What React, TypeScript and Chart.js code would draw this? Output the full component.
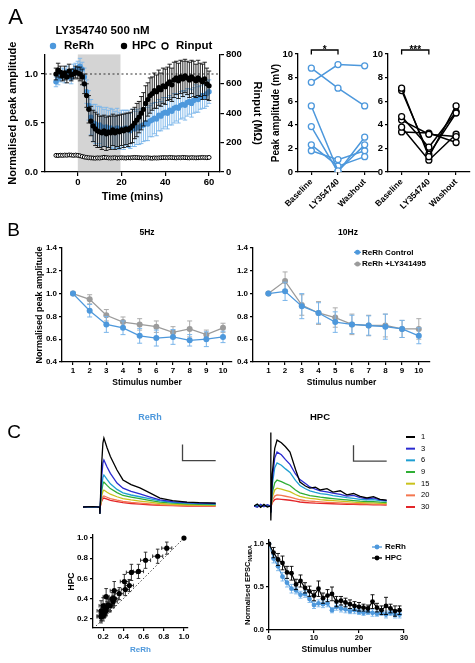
import React, { useEffect, useRef } from "react";
import { Chart, registerables } from "chart.js";

Chart.register(...registerables);

const PAGE_W = 475;
const PAGE_H = 663;
const FONT = "'Liberation Sans', Arial, Helvetica, sans-serif";
const BLUE = "#4d98dc";
const BLUE_LIGHT = "#7ab5ea";
const GREY = "#9b9b9b";
const TRACE_COLOURS = ["#000000", "#2a2ad0", "#1f9fd2", "#2fae35", "#c9c21c", "#f4764f", "#e3262a"];

// ===== Panel A: time course =====
const TIME_MIN = [
  -10, -9, -8, -7, -6, -5, -4, -3, -2, -1,
  0, 1, 2, 3, 4, 5, 6, 7, 8, 9,
  10, 11, 12, 13, 14, 15, 16, 17, 18, 19,
  20, 21, 22, 23, 24, 25, 26, 27, 28, 29,
  30, 31, 32, 33, 34, 35, 36, 37, 38, 39,
  40, 41, 42, 43, 44, 45, 46, 47, 48, 49,
  50, 51, 52, 53, 54, 55, 56, 57, 58, 59, 60,
];
const RERH_AMP = [
  0.92, 0.95, 0.97, 1.0, 0.98, 1.02, 0.99, 0.96, 1.03, 1.05,
  1.06, 1.08, 1.05, 0.97, 0.82, 0.68, 0.56, 0.5, 0.49, 0.47,
  0.48, 0.46, 0.45, 0.46, 0.44, 0.45, 0.44, 0.43, 0.45, 0.42,
  0.44, 0.43, 0.45, 0.44, 0.42, 0.45, 0.44, 0.46, 0.45, 0.47,
  0.48, 0.5, 0.49, 0.52, 0.53, 0.55, 0.54, 0.58, 0.57, 0.6,
  0.61, 0.6, 0.63, 0.62, 0.65, 0.66, 0.65, 0.68, 0.69, 0.68,
  0.71, 0.72, 0.7, 0.73, 0.75, 0.74, 0.76, 0.78, 0.77, 0.8, 0.82,
];
const RERH_AMP_SEM = [
  0.05, 0.06, 0.05, 0.06, 0.07, 0.06, 0.05, 0.06, 0.07, 0.06,
  0.07, 0.08, 0.07, 0.09, 0.12, 0.15, 0.18, 0.19, 0.2, 0.2,
  0.19, 0.2, 0.19, 0.2, 0.19, 0.2, 0.2, 0.19, 0.2, 0.19,
  0.19, 0.2, 0.18, 0.19, 0.18, 0.19, 0.18, 0.18, 0.17, 0.18,
  0.17, 0.18, 0.17, 0.16, 0.17, 0.16, 0.17, 0.16, 0.15, 0.16,
  0.15, 0.16, 0.15, 0.14, 0.15, 0.14, 0.15, 0.14, 0.14, 0.15,
  0.14, 0.13, 0.14, 0.13, 0.14, 0.13, 0.12, 0.13, 0.12, 0.13, 0.12,
];
const HPC_AMP = [
  1.0, 1.04, 1.02, 0.98, 1.01, 0.97, 1.03, 0.99, 1.0, 1.02,
  1.01, 1.0, 0.97, 0.9, 0.78, 0.64, 0.52, 0.47, 0.44, 0.42,
  0.41, 0.4, 0.42, 0.39, 0.41, 0.4, 0.43, 0.4, 0.42, 0.41,
  0.43, 0.42, 0.44, 0.43, 0.45, 0.47, 0.5, 0.53, 0.56, 0.6,
  0.64, 0.7, 0.74, 0.78, 0.8, 0.83, 0.82, 0.86, 0.84, 0.88,
  0.87, 0.9, 0.92, 0.89, 0.94, 0.96, 0.93, 0.97, 0.95, 0.98,
  0.96, 0.94, 0.97, 0.95, 0.93, 0.96, 0.94, 0.92, 0.95, 0.9, 0.88,
];
const HPC_AMP_SEM = [
  0.06, 0.07, 0.06, 0.05, 0.07, 0.06, 0.07, 0.06, 0.05, 0.06,
  0.06, 0.07, 0.08, 0.1, 0.12, 0.14, 0.15, 0.16, 0.17, 0.17,
  0.16, 0.17, 0.16, 0.17, 0.16, 0.17, 0.16, 0.17, 0.16, 0.17,
  0.16, 0.17, 0.16, 0.17, 0.16, 0.17, 0.16, 0.17, 0.16, 0.17,
  0.17, 0.18, 0.17, 0.18, 0.17, 0.18, 0.17, 0.18, 0.17, 0.18,
  0.18, 0.17, 0.18, 0.17, 0.18, 0.17, 0.18, 0.17, 0.18, 0.17,
  0.17, 0.18, 0.17, 0.18, 0.17, 0.18, 0.17, 0.18, 0.17, 0.16, 0.15,
];
const RINPUT_MOHM = [
  113, 112, 114, 113, 115, 114, 116, 115, 113, 115,
  113, 110, 106, 102, 99, 97, 96, 95, 94, 96,
  95, 97, 100, 98, 96, 95, 96, 97, 95, 96,
  97, 96, 95, 97, 96, 98, 99, 98, 97, 96,
  95, 96, 97, 95, 94, 96, 95, 96, 97, 98,
  98, 97, 99, 98, 97, 96, 98, 97, 99, 98,
  97, 96, 98, 97, 96, 97, 98, 99, 98, 97, 99,
];
const DRUG_WINDOW = [0, 19.5];
const REF_SPAN = [-15, 65];
const REF_LEVEL = [1, 1];
const A_X_TICKS = [0, 20, 40, 60];
const A_Y_TICKS = [0, 0.5, 1.0];
const A_Y1_TICKS = [0, 200, 400, 600, 800];

// ===== Panel A: individual cells =====
const CONDITIONS = ["Baseline", "LY354740", "Washout"];
const RERH_BASELINE = [8.8, 7.6, 5.6, 3.85, 2.3, 1.8];
const RERH_LY = [7.1, 9.1, 0.1, 0.0, 0.5, 1.05];
const RERH_WASHOUT = [5.6, 9.0, 2.3, 2.95, 1.3, 1.8];
const HPC_BASELINE = [7.1, 6.9, 4.7, 4.4, 3.8, 3.4];
const HPC_LY = [1.3, 1.5, 2.1, 3.2, 1.0, 3.3];
const HPC_WASHOUT = [5.6, 5.0, 5.1, 3.0, 3.2, 2.5];
const PEAK_TICKS = [0, 2, 4, 6, 8, 10];

// ===== Panel B =====
const STIM_B = [1, 2, 3, 4, 5, 6, 7, 8, 9, 10];
const RERH_5HZ = [1.0, 0.85, 0.73, 0.7, 0.63, 0.61, 0.62, 0.59, 0.6, 0.62];
const RERH_5HZ_SEM = [0, 0.055, 0.07, 0.06, 0.065, 0.07, 0.065, 0.05, 0.065, 0.05];
const LY_5HZ = [1.0, 0.95, 0.81, 0.75, 0.73, 0.71, 0.66, 0.69, 0.64, 0.7];
const LY_5HZ_SEM = [0, 0.04, 0.05, 0.045, 0.05, 0.05, 0.05, 0.07, 0.04, 0.04];
const RERH_10HZ = [1.0, 1.02, 0.89, 0.83, 0.75, 0.73, 0.72, 0.71, 0.69, 0.63];
const RERH_10HZ_SEM = [0, 0.08, 0.11, 0.09, 0.09, 0.08, 0.085, 0.11, 0.075, 0.07];
const LY_10HZ = [1.0, 1.11, 0.9, 0.83, 0.79, 0.73, 0.72, 0.72, 0.69, 0.69];
const LY_10HZ_SEM = [0, 0.08, 0.09, 0.1, 0.085, 0.09, 0.09, 0.1, 0.075, 0.09];
const B_Y_TICKS = [0.4, 0.6, 0.8, 1.0, 1.2, 1.4];

// ===== Panel C: example traces (ms, pA) =====
const TRACE_LABELS = ["1", "3", "6", "9", "15", "20", "30"];
const RERH_TRACE_T = [0, 60, 100, 102, 105, 112, 120, 126, 145, 165, 205, 241, 290, 343, 400, 464, 540, 627, 700, 800];
const RERH_TRACE_1 = [0, 2, 0, -44, 40, 260, 400, 431, 370, 315, 231, 169, 140, 119, 90, 56, 40, 31, 27, 24];
const RERH_TRACE_3 = [0, 2, 0, -40, 30, 180, 275, 294, 250, 210, 150, 118, 98, 82, 64, 45, 34, 28, 25, 22];
const RERH_TRACE_6 = [0, 1, 0, -40, 22, 120, 185, 200, 172, 145, 110, 88, 75, 64, 52, 38, 29, 24, 21, 18];
const RERH_TRACE_9 = [0, 1, 0, -40, 18, 95, 145, 156, 135, 115, 90, 72, 62, 52, 42, 31, 24, 20, 17, 15];
const RERH_TRACE_15 = [0, 1, 0, -38, 12, 65, 98, 106, 92, 80, 64, 52, 44, 37, 30, 22, 17, 14, 12, 11];
const RERH_TRACE_20 = [0, 0, 0, -38, 8, 42, 64, 69, 61, 53, 43, 35, 29, 24, 19, 14, 11, 9, 8, 7];
const RERH_TRACE_30 = [0, 0, 0, -38, 6, 34, 52, 56, 49, 42, 34, 27, 22, 18, 14, 10, 8, 6, 5, 5];
const HPC_TRACE_T = [0, 20, 40, 60, 80, 100, 101, 102, 104, 110, 125, 139, 165, 190, 217, 250, 277, 310, 337, 370, 400, 440, 476, 520, 560, 600, 640, 681, 720, 760, 800];
const HPC_TRACE_1 = [0, 12, -8, 10, -6, 0, 460, -90, 0, 200, 360, 412, 395, 370, 337, 230, 150, 125, 112, 118, 100, 108, 87, 95, 70, 78, 60, 50, 58, 42, 37];
const HPC_TRACE_3 = [0, -8, 10, -5, 8, 0, 0, -40, 0, 160, 300, 337, 320, 290, 260, 200, 165, 140, 119, 105, 95, 88, 80, 72, 62, 66, 52, 45, 50, 38, 34];
const HPC_TRACE_6 = [0, 6, -5, 8, -4, 0, 0, -40, 0, 130, 240, 269, 255, 232, 210, 160, 128, 108, 95, 85, 78, 72, 65, 58, 52, 48, 42, 38, 40, 33, 30];
const HPC_TRACE_9 = [0, -4, 6, -3, 5, 0, 0, -40, 0, 80, 145, 162, 152, 140, 128, 100, 82, 72, 65, 60, 55, 50, 46, 42, 38, 34, 30, 28, 27, 24, 22];
const HPC_TRACE_15 = [0, 4, -4, 5, -3, 0, 0, -38, 0, 55, 100, 112, 106, 98, 90, 72, 60, 52, 48, 44, 40, 36, 33, 30, 27, 24, 22, 20, 19, 17, 16];
const HPC_TRACE_20 = [0, -3, 4, -2, 3, 0, 0, -36, 0, 35, 62, 69, 66, 61, 56, 46, 39, 34, 31, 28, 26, 23, 21, 19, 17, 15, 14, 13, 12, 11, 10];
const HPC_TRACE_30 = [0, 3, -3, 4, -2, 0, 0, -36, 0, 22, 40, 44, 42, 39, 36, 30, 25, 22, 20, 18, 17, 15, 14, 12, 11, 10, 9, 8, 7, 7, 6];
const SCALE_BAR_T = [600, 600, 800];
const RERH_SCALE_BAR_Y = [390, 290, 290];
const HPC_SCALE_BAR_Y = [380, 280, 280];

// ===== Panel C: NMDA train =====
const STIM_C = [0, 1, 2, 3, 4, 5, 6, 7, 8, 9, 10, 11, 12, 13, 14, 15, 16, 17, 18, 19, 20, 21, 22, 23, 24, 25, 26, 27, 28, 29];
const RERH_NMDA = [1.0, 0.83, 0.74, 0.62, 0.55, 0.48, 0.46, 0.41, 0.42, 0.36, 0.29, 0.31, 0.3, 0.31, 0.23, 0.27, 0.25, 0.24, 0.22, 0.23, 0.21, 0.2, 0.21, 0.2, 0.19, 0.2, 0.18, 0.2, 0.18, 0.18];
const RERH_NMDA_SEM = [0, 0.05, 0.05, 0.05, 0.05, 0.05, 0.04, 0.04, 0.04, 0.04, 0.04, 0.04, 0.04, 0.04, 0.03, 0.04, 0.04, 0.04, 0.03, 0.04, 0.03, 0.03, 0.03, 0.04, 0.03, 0.03, 0.04, 0.03, 0.04, 0.04];
const HPC_NMDA = [1.0, 0.9, 0.82, 0.78, 0.67, 0.66, 0.53, 0.57, 0.49, 0.45, 0.4, 0.48, 0.37, 0.4, 0.42, 0.33, 0.34, 0.32, 0.3, 0.28, 0.27, 0.26, 0.25, 0.33, 0.26, 0.23, 0.28, 0.25, 0.22, 0.23];
const HPC_NMDA_SEM = [0, 0.06, 0.07, 0.08, 0.07, 0.08, 0.06, 0.07, 0.06, 0.06, 0.06, 0.09, 0.06, 0.07, 0.08, 0.06, 0.05, 0.05, 0.05, 0.05, 0.05, 0.04, 0.04, 0.08, 0.05, 0.05, 0.1, 0.05, 0.06, 0.05];
const C_X_TICKS = [0, 10, 20, 30];
const C_Y_TICKS = [0, 0.5, 1.0];
const SCATTER_TICKS = [0.2, 0.4, 0.6, 0.8, 1.0];
const IDENTITY = [0.13, 1.0];

// ===== helpers =====
const tickFont = (size: number) => ({ family: FONT, size, weight: "bold" as const });
const fmt1 = (v: number) => Number(v).toFixed(1);

function linAxis(o: any) {
  return {
    type: "linear",
    position: o.position ?? (o.vertical ? "left" : "bottom"),
    min: o.min,
    max: o.max,
    afterBuildTicks: (s: any) => {
      s.ticks = o.ticks.map((v: number) => ({ value: v }));
    },
    afterFit: (s: any) => {
      if (o.vertical) s.width = o.fit;
      else s.height = o.fit;
    },
    grid: { display: true, drawOnChartArea: false, drawTicks: true, tickLength: o.tickLen ?? 3.5, color: "#000", lineWidth: 1.2 },
    border: { display: true, color: "#000", width: 1.3 },
    ticks: {
      color: "#000",
      font: tickFont(o.size),
      padding: o.pad ?? 2,
      autoSkip: false,
      maxRotation: 0,
      minRotation: 0,
      callback: (v: any) => (o.fmt ? o.fmt(Number(v)) : String(v)),
    },
    title: o.title
      ? {
          display: true,
          text: o.title,
          color: o.titleColor ?? "#000",
          font: tickFont(o.titleSize ?? 10),
          padding: o.vertical ? { top: o.titlePad ?? 0, bottom: 0 } : { top: 0, bottom: o.titlePad ?? 0 },
        }
      : { display: false },
  };
}

function catAxis(fit: number) {
  return {
    type: "category",
    offset: true,
    afterFit: (s: any) => {
      s.height = fit;
    },
    grid: { display: true, drawOnChartArea: false, drawTicks: true, tickLength: 3, color: "#000", lineWidth: 1.2, offset: false },
    border: { display: true, color: "#000", width: 1.3 },
    ticks: { color: "#000", font: tickFont(8.5), padding: 2, autoSkip: false, minRotation: 45, maxRotation: 45 },
  };
}

function baseOptions(padding: any, scales: any) {
  return {
    responsive: false,
    animation: false,
    devicePixelRatio: 1,
    events: [],
    layout: { padding },
    plugins: { legend: { display: false }, tooltip: { enabled: false }, title: { display: false } },
    scales,
  };
}

const errorBars = {
  id: "errorBars",
  beforeDatasetDraw(chart: any, args: any) {
    const ds: any = chart.data.datasets[args.index];
    if (!ds.errorY && !ds.errorX) return;
    const meta = args.meta;
    const xs = chart.scales[meta.xAxisID];
    const ys = chart.scales[meta.yAxisID];
    const ctx = chart.ctx;
    const cap = ds.errorCap ?? 2.5;
    ctx.save();
    ctx.strokeStyle = ds.errorColor ?? ds.borderColor;
    ctx.lineWidth = ds.errorWidth ?? 1;
    ctx.beginPath();
    ds.data.forEach((d: any, i: number) => {
      const px = xs.getPixelForValue(d.x);
      const py = ys.getPixelForValue(d.y);
      const ey = ds.errorY ? ds.errorY[i] : 0;
      if (ey) {
        const a = ys.getPixelForValue(d.y + ey);
        const b = ys.getPixelForValue(d.y - ey);
        ctx.moveTo(px, a);
        ctx.lineTo(px, b);
        ctx.moveTo(px - cap, a);
        ctx.lineTo(px + cap, a);
        ctx.moveTo(px - cap, b);
        ctx.lineTo(px + cap, b);
      }
      const ex = ds.errorX ? ds.errorX[i] : 0;
      if (ex) {
        const a = xs.getPixelForValue(d.x - ex);
        const b = xs.getPixelForValue(d.x + ex);
        ctx.moveTo(a, py);
        ctx.lineTo(b, py);
        ctx.moveTo(a, py - cap);
        ctx.lineTo(a, py + cap);
        ctx.moveTo(b, py - cap);
        ctx.lineTo(b, py + cap);
      }
    });
    ctx.stroke();
    ctx.restore();
  },
};

function freeLegend(items: any[], size: number, bold: boolean) {
  return {
    id: "freeLegend",
    afterDatasetsDraw(chart: any) {
      const ctx = chart.ctx;
      ctx.save();
      ctx.font = `${bold ? "bold " : ""}${size}px ${FONT}`;
      ctx.textBaseline = "middle";
      ctx.textAlign = "left";
      items.forEach((it) => {
        const ds: any = chart.data.datasets[it.index];
        const col = ds.borderColor ?? "#000";
        const fillCol = ds.pointBackgroundColor ?? col;
        ctx.lineWidth = it.lw ?? 1.3;
        if (it.marker === "dot") {
          ctx.fillStyle = fillCol;
          ctx.beginPath();
          ctx.arc(it.x, it.y, it.r ?? 3, 0, Math.PI * 2);
          ctx.fill();
        } else if (it.marker === "ring") {
          ctx.fillStyle = "#fff";
          ctx.strokeStyle = ds.pointBorderColor ?? "#000";
          ctx.beginPath();
          ctx.arc(it.x, it.y, it.r ?? 3, 0, Math.PI * 2);
          ctx.fill();
          ctx.stroke();
        } else if (it.marker === "linedot") {
          ctx.strokeStyle = col;
          ctx.beginPath();
          ctx.moveTo(it.x, it.y);
          ctx.lineTo(it.x + it.len, it.y);
          ctx.stroke();
          ctx.fillStyle = fillCol;
          ctx.beginPath();
          ctx.arc(it.x + it.len / 2, it.y, it.r ?? 2.5, 0, Math.PI * 2);
          ctx.fill();
        } else {
          ctx.strokeStyle = col;
          ctx.lineWidth = it.lw ?? 2;
          ctx.beginPath();
          ctx.moveTo(it.x, it.y);
          ctx.lineTo(it.x + it.len, it.y);
          ctx.stroke();
        }
        ctx.fillStyle = "#000";
        ctx.fillText(ds.label, it.tx, it.y);
      });
      ctx.restore();
    },
  };
}

function shadedBand(from: number, to: number, colour: string) {
  return {
    id: "shadedBand",
    beforeDatasetsDraw(chart: any) {
      const { ctx, chartArea } = chart;
      const xs = chart.scales.x;
      const a = xs.getPixelForValue(from);
      const b = xs.getPixelForValue(to);
      ctx.save();
      ctx.fillStyle = colour;
      ctx.fillRect(a, chartArea.top, b - a, chartArea.bottom - chartArea.top - 0.7);
      ctx.restore();
    },
  };
}

function sigBracket(i0: number, i1: number, text: string, yLine: number, yEnd: number) {
  return {
    id: "sigBracket",
    afterDraw(chart: any) {
      const ctx = chart.ctx;
      const xs = chart.scales.x;
      const x0 = xs.getPixelForValue(i0);
      const x1 = xs.getPixelForValue(i1);
      ctx.save();
      ctx.strokeStyle = "#000";
      ctx.lineWidth = 1.3;
      ctx.beginPath();
      ctx.moveTo(x0, yEnd);
      ctx.lineTo(x0, yLine);
      ctx.lineTo(x1, yLine);
      ctx.lineTo(x1, yEnd);
      ctx.stroke();
      ctx.fillStyle = "#000";
      ctx.font = `bold 10px ${FONT}`;
      ctx.textAlign = "center";
      ctx.textBaseline = "alphabetic";
      ctx.fillText(text, (x0 + x1) / 2, yLine + 2.5);
      ctx.restore();
    },
  };
}

function rotatedSubTitle(cx: number, cy: number, main: string, sub: string, size: number, subSize: number) {
  return {
    id: "rotatedSubTitle",
    afterDraw(chart: any) {
      const ctx = chart.ctx;
      ctx.save();
      ctx.translate(cx, cy);
      ctx.rotate(-Math.PI / 2);
      const mainFont = `bold ${size}px ${FONT}`;
      const subFont = `bold ${subSize}px ${FONT}`;
      ctx.font = mainFont;
      const w1 = ctx.measureText(main).width;
      ctx.font = subFont;
      const w2 = ctx.measureText(sub).width;
      const x0 = -(w1 + w2) / 2;
      ctx.fillStyle = "#000";
      ctx.textAlign = "left";
      ctx.textBaseline = "middle";
      ctx.font = mainFont;
      ctx.fillText(main, x0, 0);
      ctx.font = subFont;
      ctx.fillText(sub, x0 + w1, size * 0.3);
      ctx.restore();
    },
  };
}

const xy = (xs: number[], ys: number[]) => xs.map((x, i) => ({ x, y: ys[i] }));

// ===== chart configs =====
function makeTimeCourse() {
  return {
    type: "line",
    data: {
      datasets: [
        {
          label: "HPC", data: xy(TIME_MIN, HPC_AMP), yAxisID: "y", showLine: false,
          pointRadius: 2.6, pointBackgroundColor: "#000", pointBorderWidth: 0, borderColor: "#000",
          errorY: HPC_AMP_SEM, errorColor: "#111", errorCap: 2.2, errorWidth: 0.9,
        },
        {
          label: "ReRh", data: xy(TIME_MIN, RERH_AMP), yAxisID: "y", showLine: false,
          pointRadius: 2.7, pointBackgroundColor: BLUE, pointBorderWidth: 0, borderColor: BLUE,
          errorY: RERH_AMP_SEM, errorColor: BLUE_LIGHT, errorCap: 2.2, errorWidth: 0.9,
        },
        {
          label: "Rinput", data: xy(TIME_MIN, RINPUT_MOHM), yAxisID: "y1", showLine: false,
          pointRadius: 2, pointBackgroundColor: "#fff", pointBorderColor: "#000", pointBorderWidth: 1, borderColor: "#000",
        },
        {
          label: "reference", data: xy(REF_SPAN, REF_LEVEL), yAxisID: "y",
          borderColor: "#333", borderWidth: 1.2, borderDash: [2, 2.5], pointRadius: 0,
        },
      ],
    },
    options: baseOptions(
      { left: 0, top: 54.4, right: 211, bottom: 458 },
      {
        x: linAxis({ min: -15, max: 65, ticks: A_X_TICKS, size: 9.5, fit: 33, vertical: false, title: "Time (mins)", titleSize: 11, titlePad: 1.4, tickLen: 4, pad: 0.5 }),
        y: linAxis({ min: 0, max: 1.2, ticks: A_Y_TICKS, fmt: fmt1, size: 9.5, fit: 45, vertical: true, title: "Normalised peak amplitude", titleSize: 11, titlePad: 6.4, tickLen: 4, pad: 3 }),
        y1: linAxis({ min: 0, max: 800, ticks: A_Y1_TICKS, size: 9.5, fit: 44, vertical: true, position: "right", title: "Rinput (MΩ)", titleSize: 11, titlePad: 0.4, tickLen: 4, pad: 2 }),
      }
    ),
    plugins: [
      shadedBand(DRUG_WINDOW[0], DRUG_WINDOW[1], "#d4d4d4"),
      errorBars,
      freeLegend(
        [
          { index: 1, marker: "dot", x: 53, y: 46, r: 3.2, tx: 64 },
          { index: 0, marker: "dot", x: 124, y: 46, r: 3.2, tx: 132 },
          { index: 2, marker: "ring", x: 165, y: 46, r: 3, tx: 176 },
        ],
        11.5,
        true
      ),
    ],
  };
}

function makeCells(base: number[], ly: number[], wash: number[], colour: string, pad: any, yFit: number, withTitle: boolean, stars: string) {
  return {
    type: "line",
    data: {
      labels: CONDITIONS,
      datasets: base.map((b, i) => ({
        label: "cell " + (i + 1),
        data: [b, ly[i], wash[i]],
        borderColor: colour,
        borderWidth: 1.5,
        pointRadius: 3,
        pointBackgroundColor: "#fff",
        pointBorderColor: colour,
        pointBorderWidth: 1.3,
        tension: 0,
      })),
    },
    options: baseOptions(pad, {
      x: catAxis(45),
      y: linAxis({
        min: 0, max: 10, ticks: PEAK_TICKS, size: 9.5, fit: yFit, vertical: true,
        title: withTitle ? "Peak amplitude (mV)" : undefined, titleSize: 10, titlePad: 0, tickLen: 3, pad: 2,
      }),
    }),
    plugins: [sigBracket(0, 1, stars, 50, 54.5)],
  };
}

function makeTrain(ctrl: number[], ctrlSem: number[], ly: number[], lySem: number[], pad: any, xMin: number, xMax: number, yFit: number, withTitle: boolean, withLegend: boolean) {
  const plugins: any[] = [errorBars];
  if (withLegend) {
    plugins.push(
      freeLegend(
        [
          { index: 0, marker: "linedot", x: 354, len: 7, y: 252.3, r: 2.5, tx: 362 },
          { index: 1, marker: "linedot", x: 354, len: 7, y: 264, r: 2.5, tx: 362 },
        ],
        8,
        true
      )
    );
  }
  return {
    type: "line",
    data: {
      datasets: [
        {
          label: "ReRh Control", data: xy(STIM_B, ctrl), borderColor: BLUE, borderWidth: 1.3,
          pointRadius: 3, pointBackgroundColor: BLUE, pointBorderWidth: 0,
          errorY: ctrlSem, errorColor: BLUE_LIGHT, errorCap: 2.5, errorWidth: 1,
        },
        {
          label: "ReRh +LY341495", data: xy(STIM_B, ly), borderColor: GREY, borderWidth: 1.3,
          pointRadius: 3, pointBackgroundColor: GREY, pointBorderWidth: 0,
          errorY: lySem, errorColor: "#ababab", errorCap: 2.5, errorWidth: 1,
        },
      ],
    },
    options: baseOptions(pad, {
      x: linAxis({ min: xMin, max: xMax, ticks: STIM_B, size: 8, fit: 26.1, vertical: false, title: "Stimulus number", titleSize: 8.5, titlePad: 0, tickLen: 3, pad: 1.2 }),
      y: linAxis({
        min: 0.4, max: 1.4, ticks: B_Y_TICKS, fmt: fmt1, size: 8, fit: yFit, vertical: true,
        title: withTitle ? "Normalised peak amplitude" : undefined, titleSize: 9, titlePad: 0, tickLen: 3, pad: 2,
      }),
    }),
    plugins,
  };
}

function makeTraces(t: number[], traces: number[][], bar: number[], pad: any, withLegend: boolean) {
  const datasets: any[] = traces.map((v, i) => ({
    label: TRACE_LABELS[i],
    data: xy(t, v),
    borderColor: TRACE_COLOURS[i],
    borderWidth: 1.3,
    pointRadius: 0,
    tension: 0,
  }));
  datasets.push({ label: "scale bar", data: xy(SCALE_BAR_T, bar), borderColor: "#444", borderWidth: 1.3, pointRadius: 0, tension: 0 });
  const plugins: any[] = [];
  if (withLegend) {
    plugins.push(
      freeLegend(
        TRACE_LABELS.map((_, i) => ({ index: i, marker: "line", x: 406, len: 9, y: 437 + i * 11.67, lw: 2, tx: 421 })),
        7.5,
        false
      )
    );
  }
  return {
    type: "line",
    data: { datasets },
    options: baseOptions(pad, {
      x: { type: "linear", display: false, min: 0, max: 820 },
      y: { type: "linear", display: false, min: -100, max: 500 },
    }),
    plugins,
  };
}

function makeScatter() {
  return {
    type: "scatter",
    data: {
      datasets: [
        {
          label: "HPC vs ReRh",
          data: xy(RERH_NMDA, HPC_NMDA),
          pointRadius: 2.6, pointBackgroundColor: "#000", pointBorderWidth: 0, borderColor: "#000",
          errorX: RERH_NMDA_SEM, errorY: HPC_NMDA_SEM, errorColor: "#222", errorCap: 1.8, errorWidth: 0.9,
        },
        {
          label: "identity", data: xy(IDENTITY, IDENTITY), showLine: true,
          borderColor: "#444", borderWidth: 1, borderDash: [1.5, 2], pointRadius: 0,
        },
      ],
    },
    options: baseOptions(
      { left: 66.9, top: 535, right: 287, bottom: 8.2 },
      {
        x: linAxis({ min: 0.1, max: 1.04, ticks: SCATTER_TICKS, fmt: fmt1, size: 8, fit: 26.8, vertical: false, title: "ReRh", titleColor: BLUE, titleSize: 8, titlePad: 0, tickLen: 3, pad: 1 }),
        y: linAxis({ min: 0.11, max: 1.03, ticks: SCATTER_TICKS, fmt: fmt1, size: 8, fit: 26.1, vertical: true, title: "HPC", titleSize: 8.5, titlePad: 0, tickLen: 3, pad: 2 }),
      }
    ),
    plugins: [errorBars],
  };
}

function makeNmda() {
  return {
    type: "line",
    data: {
      datasets: [
        {
          label: "HPC", data: xy(STIM_C, HPC_NMDA), borderColor: "#000", borderWidth: 1.2,
          pointRadius: 2.4, pointBackgroundColor: "#000", pointBorderWidth: 0,
          errorY: HPC_NMDA_SEM, errorColor: "#000", errorCap: 2, errorWidth: 0.9, tension: 0,
        },
        {
          label: "ReRh", data: xy(STIM_C, RERH_NMDA), borderColor: BLUE, borderWidth: 1.2,
          pointRadius: 2.4, pointBackgroundColor: BLUE, pointBorderWidth: 0,
          errorY: RERH_NMDA_SEM, errorColor: BLUE_LIGHT, errorCap: 2, errorWidth: 0.9, tension: 0,
        },
      ],
    },
    options: baseOptions(
      { left: 245, top: 539.7, right: 71, bottom: 7.9 },
      {
        x: linAxis({ min: 0, max: 30, ticks: C_X_TICKS, size: 7.5, fit: 25.1, vertical: false, title: "Stimulus number", titleSize: 8.6, titlePad: 0, tickLen: 3, pad: 0 }),
        y: linAxis({ min: 0, max: 1.05, ticks: C_Y_TICKS, fmt: fmt1, size: 7.5, fit: 24, vertical: true, tickLen: 3, pad: 2 }),
      }
    ),
    plugins: [
      errorBars,
      freeLegend(
        [
          { index: 1, marker: "linedot", x: 372, len: 10, y: 547, r: 2.4, tx: 385 },
          { index: 0, marker: "linedot", x: 372, len: 10, y: 558, r: 2.4, tx: 385 },
        ],
        8,
        true
      ),
      rotatedSubTitle(248, 585, "Normalised EPSC", "NMDA", 7.5, 5.5),
    ],
  };
}

// ===== components =====
function ChartLayer({ make }: { make: () => any }) {
  const ref = useRef<HTMLCanvasElement>(null);
  useEffect(() => {
    const chart = new Chart(ref.current as HTMLCanvasElement, make());
    return () => chart.destroy();
  }, []);
  return <canvas ref={ref} width={PAGE_W} height={PAGE_H} style={{ position: "absolute", left: 0, top: 0, width: PAGE_W, height: PAGE_H }} />;
}

function Label({ text, cx, cy, size, weight = 700, color = "#000" }: any) {
  return (
    <div
      style={{
        position: "absolute",
        left: cx,
        top: cy,
        transform: "translate(-50%, -50%)",
        fontFamily: FONT,
        fontSize: size,
        fontWeight: weight,
        lineHeight: 1,
        color,
        whiteSpace: "nowrap",
      }}
    >
      {text}
    </div>
  );
}

export default function App() {
  return (
    <div style={{ position: "fixed", left: 0, top: 0, width: PAGE_W, height: PAGE_H, background: "#fff", overflow: "hidden" }}>
      <ChartLayer make={makeTimeCourse} />
      <ChartLayer make={() => makeCells(RERH_BASELINE, RERH_LY, RERH_WASHOUT, BLUE, { left: 270.7, top: 54, right: 97, bottom: 446 }, 27.3, true, "*")} />
      <ChartLayer make={() => makeCells(HPC_BASELINE, HPC_LY, HPC_WASHOUT, "#000", { left: 368, top: 54, right: 5, bottom: 446 }, 20, false, "***")} />
      <ChartLayer make={() => makeTrain(RERH_5HZ, RERH_5HZ_SEM, LY_5HZ, LY_5HZ_SEM, { left: 34.6, top: 248, right: 243, bottom: 274.9 }, 0.34, 10.54, 27.4, true, false)} />
      <ChartLayer make={() => makeTrain(RERH_10HZ, RERH_10HZ_SEM, LY_10HZ, LY_10HZ_SEM, { left: 231, top: 248, right: 45, bottom: 274.9 }, 0.08, 10.67, 22, false, true)} />
      <ChartLayer
        make={() =>
          makeTraces(
            RERH_TRACE_T,
            [RERH_TRACE_1, RERH_TRACE_3, RERH_TRACE_6, RERH_TRACE_9, RERH_TRACE_15, RERH_TRACE_20, RERH_TRACE_30],
            RERH_SCALE_BAR_Y,
            { left: 83, top: 427, right: 256, bottom: 140 },
            false
          )
        }
      />
      <ChartLayer
        make={() =>
          makeTraces(
            HPC_TRACE_T,
            [HPC_TRACE_1, HPC_TRACE_3, HPC_TRACE_6, HPC_TRACE_9, HPC_TRACE_15, HPC_TRACE_20, HPC_TRACE_30],
            HPC_SCALE_BAR_Y,
            { left: 254, top: 426, right: 85, bottom: 141 },
            true
          )
        }
      />
      <ChartLayer make={makeScatter} />
      <ChartLayer make={makeNmda} />

      <Label text="A" cx={15.5} cy={17} size={22} weight={400} />
      <Label text="B" cx={13.5} cy={228.5} size={19} weight={400} />
      <Label text="C" cx={14} cy={431} size={19} weight={400} />
      <Label text="LY354740 500 nM" cx={102.5} cy={31} size={11.5} />
      <Label text="5Hz" cx={147} cy={232} size={8.5} />
      <Label text="10Hz" cx={348} cy={232} size={8.5} />
      <Label text="ReRh" cx={150} cy={417} size={9} color={BLUE} />
      <Label text="HPC" cx={320} cy={417} size={9.5} />
    </div>
  );
}
